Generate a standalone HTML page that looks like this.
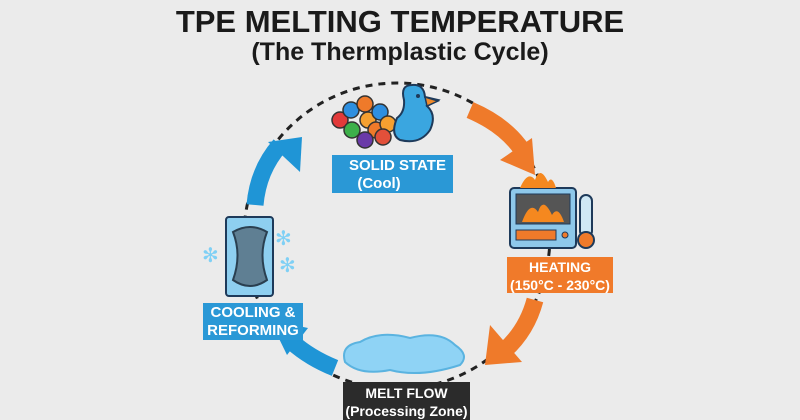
<!DOCTYPE html><html><head><style>
body{margin:0;width:800px;height:420px;background:#ebebeb;overflow:hidden;font-family:"Liberation Sans",sans-serif;position:relative}
.t{position:absolute;left:0;width:800px;text-align:center;font-weight:bold;color:#1a1a1a}
.b{position:absolute;color:#fff;font-weight:bold;font-size:15px;line-height:18px;box-sizing:border-box;white-space:nowrap}
</style></head><body>
<div class="t" style="top:4px;font-size:31px;letter-spacing:0px">TPE MELTING TEMPERATURE</div>
<div class="t" style="top:38px;font-size:25px">(The Thermplastic Cycle)</div>
<svg width="800" height="420" style="position:absolute;left:0;top:0">
<circle cx="397" cy="236" r="153" fill="none" stroke="#222" stroke-width="3" stroke-dasharray="7 6"/>
<!-- orange arrows -->
<path d="M470 110 Q505 125 522 150" stroke="#ef7a2a" stroke-width="17" fill="none"/>
<polygon points="500,160 532,138 535,175" fill="#ef7a2a"/>
<path d="M535 300 Q527 330 505 350" stroke="#ef7a2a" stroke-width="17" fill="none"/>
<polygon points="490,325 522,362 485,365" fill="#ef7a2a"/>
<!-- blue arrows -->
<path d="M255 205 Q258 170 280 145" stroke="#1f95d6" stroke-width="17" fill="none"/>
<polygon points="268,142 302,137 300,172" fill="#1f95d6"/>
<path d="M335 368 Q310 358 292 342" stroke="#1f95d6" stroke-width="17" fill="none"/>
<polygon points="270,320 308,328 287,355" fill="#1f95d6"/>
<!-- pellets -->
<g stroke="#333" stroke-width="1.5">
<circle cx="340" cy="120" r="8" fill="#e23a3a"/><circle cx="351" cy="110" r="8" fill="#2e8fe0"/><circle cx="352" cy="130" r="8" fill="#3db04a"/>
<circle cx="365" cy="104" r="8" fill="#ef7a2a"/><circle cx="368" cy="120" r="8" fill="#f5a030"/><circle cx="380" cy="112" r="8" fill="#2e8fe0"/>
<circle cx="376" cy="130" r="8" fill="#ef7a2a"/><circle cx="388" cy="124" r="8" fill="#f5a030"/><circle cx="365" cy="140" r="8" fill="#6a3aa8"/><circle cx="383" cy="137" r="8" fill="#e2503a"/>
</g>
<!-- duck -->
<path d="M404 100 Q400 85 412 85 Q424 84 425 97 L438 100 L427 106 Q437 115 430 130 Q420 145 400 140 Q390 135 397 118 Q405 112 404 100 Z" fill="#3aa6e0" stroke="#1e3a5a" stroke-width="2"/>
<polygon points="425,97 438,101 427,106" fill="#f08a2a" stroke="#1e3a5a" stroke-width="1.5"/>
<circle cx="418" cy="96" r="2" fill="#1e3a5a"/>
<!-- oven -->
<rect x="510" y="188" width="66" height="60" rx="4" fill="#8ec8ea" stroke="#1e3a5a" stroke-width="2"/>
<rect x="516" y="194" width="54" height="30" fill="#555" stroke="#1e3a5a"/>
<path d="M522 222 Q530 200 538 212 Q543 196 552 215 Q558 205 564 222 Z" fill="#f5881f"/>
<path d="M520 188 Q528 170 535 180 Q540 165 548 182 Q552 175 556 188 Z" fill="#f5881f"/>
<rect x="516" y="230" width="40" height="10" fill="#ef7a2a" stroke="#1e3a5a"/>
<circle cx="565" cy="235" r="3" fill="#ef7a2a" stroke="#1e3a5a"/>
<rect x="580" y="195" width="12" height="42" rx="6" fill="#cfe8f5" stroke="#1e3a5a" stroke-width="2"/>
<circle cx="586" cy="240" r="8" fill="#ef7a2a" stroke="#1e3a5a" stroke-width="2"/>
<!-- mold -->
<rect x="226" y="217" width="47" height="79" rx="3" fill="#8ecff0" stroke="#1e3a5a" stroke-width="2"/>
<path d="M233 232 Q250 222 267 232 Q258 255 267 280 Q250 292 233 280 Q242 255 233 232Z" fill="#5f7f93" stroke="#2a3f50" stroke-width="2"/>
<g fill="#7fd0f5" font-size="20"><text x="202" y="262">✻</text><text x="275" y="245">✻</text><text x="279" y="272">✻</text></g>
<!-- puddle -->
<path d="M345 362 Q340 345 360 342 Q380 330 410 338 Q440 330 455 345 Q470 355 460 365 Q420 378 390 370 Q360 376 345 362Z" fill="#8fd3f5" stroke="#5ab3e0" stroke-width="2"/>
</svg>
<div class="b" style="left:332px;top:155px;width:121px;height:38px;background:#2a98d6;padding:2px 0 0 17px">SOLID STATE<br>&nbsp;&nbsp;(Cool)</div>
<div class="b" style="left:507px;top:257px;width:106px;height:36px;background:#f07a2a;text-align:center;padding-top:1px;font-size:14px">HEATING<br>(150°C - 230°C)</div>
<div class="b" style="left:203px;top:303px;width:100px;height:37px;background:#2a98d6;text-align:center;padding-top:1px">COOLING &amp;<br>REFORMING</div>
<div class="b" style="left:343px;top:382px;width:127px;height:38px;background:#2b2b2b;text-align:center;padding-top:2px;font-size:14px">MELT FLOW<br>(Processing Zone)</div>
</body></html>
